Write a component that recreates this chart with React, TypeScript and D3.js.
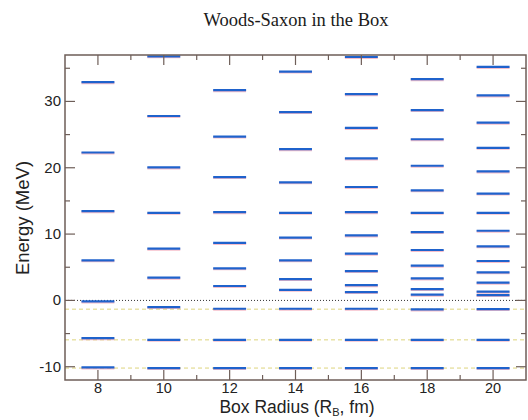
import React from 'react';
import * as d3 from 'd3';

// energy levels (MeV)
const RADII = [8, 10, 12, 14, 16, 18, 20];
const LEVELS_8 = [32.9, 22.3, 13.45, 6.05, -0.15, -5.7, -10.1];
const LEVELS_10 = [36.8, 27.8, 20.05, 13.2, 7.8, 3.43, -1.0, -5.95, -10.2];
const LEVELS_12 = [31.7, 24.7, 18.6, 13.3, 8.67, 4.84, 2.17, -1.26, -5.95, -10.2];
const LEVELS_14 = [34.5, 28.4, 22.8, 17.8, 13.2, 9.47, 6.05, 3.22, 1.6, -1.26, -5.95, -10.2];
const LEVELS_16 = [36.7, 31.1, 26.0, 21.4, 17.1, 13.3, 9.8, 7.05, 4.43, 2.3, 1.26, -1.26, -5.95, -10.2];
const LEVELS_18 = [33.35, 28.7, 24.3, 20.3, 16.6, 13.2, 10.3, 7.6, 5.24, 3.32, 1.71, 0.86, -1.36, -5.95, -10.2];
const LEVELS_20 = [35.2, 30.9, 26.8, 23.0, 19.45, 16.1, 13.2, 10.5, 8.16, 5.94, 4.23, 2.67, 1.31, 0.81, -1.31, -5.95, -10.2];
const LEVELS = [LEVELS_8, LEVELS_10, LEVELS_12, LEVELS_14, LEVELS_16, LEVELS_18, LEVELS_20];

// bound states of the potential (dashed reference lines)
const BOUND_STATES = [-1.32, -5.95, -10.2];

const X_MAJOR = [8, 10, 12, 14, 16, 18, 20];
const X_MINOR = [9, 11, 13, 15, 17, 19];
const Y_MAJOR = [-10, 0, 10, 20, 30];
const Y_MINOR = [-5, 5, 15, 25, 35];

const W = 528;
const H = 420;
const L = 65;
const R = 526;
const T = 55;
const B = 380;

const FRAME = '#6e5e58';
const BLUE = '#1f62cc';
const PINK = '#f08aa0';

export default function App() {
  const x = d3.scaleLinear().domain([7, 21]).range([L, R]);
  const y = d3.scaleLinear().domain([-12, 37]).range([B, T]);

  const bars = RADII.flatMap((r, i) => LEVELS[i].map((e, j) => ({ r, e, key: `${r}-${j}` })));

  return (
    <svg
      width={W}
      height={H}
      style={{ position: 'absolute', left: 0, top: 0, background: '#fff' }}
    >
      <text
        x={296}
        y={26}
        textAnchor="middle"
        fontFamily="'Liberation Serif', 'Times New Roman', serif"
        fontSize={18.5}
        fill="#1a1a1a"
      >
        Woods-Saxon in the Box
      </text>

      {BOUND_STATES.map((e) => (
        <line
          key={e}
          x1={L}
          x2={R}
          y1={y(e)}
          y2={y(e)}
          stroke="#ddd47c"
          strokeWidth={1}
          strokeDasharray="4,3"
        />
      ))}
      <line x1={L} x2={R} y1={y(0)} y2={y(0)} stroke="#333" strokeWidth={1} strokeDasharray="1,2" />

      {bars.map((d) => (
        <g key={d.key}>
          <line
            x1={x(d.r - 0.5)}
            x2={x(d.r + 0.5)}
            y1={y(d.e) + 0.8}
            y2={y(d.e) + 0.8}
            stroke={PINK}
            strokeWidth={2.4}
            opacity={0.55}
          />
          <line
            x1={x(d.r - 0.5)}
            x2={x(d.r + 0.5)}
            y1={y(d.e)}
            y2={y(d.e)}
            stroke={BLUE}
            strokeWidth={2.2}
          />
        </g>
      ))}

      <g stroke={FRAME} strokeWidth={1.2}>
        {X_MAJOR.map((v) => (
          <g key={`xM${v}`}>
            <line x1={x(v)} x2={x(v)} y1={B} y2={B - 10} />
            <line x1={x(v)} x2={x(v)} y1={T} y2={T + 10} />
          </g>
        ))}
        {X_MINOR.map((v) => (
          <g key={`xm${v}`}>
            <line x1={x(v)} x2={x(v)} y1={B} y2={B - 5} />
            <line x1={x(v)} x2={x(v)} y1={T} y2={T + 5} />
          </g>
        ))}
        {Y_MAJOR.map((v) => (
          <g key={`yM${v}`}>
            <line x1={L} x2={L + 10} y1={y(v)} y2={y(v)} />
            <line x1={R} x2={R - 10} y1={y(v)} y2={y(v)} />
          </g>
        ))}
        {Y_MINOR.map((v) => (
          <g key={`ym${v}`}>
            <line x1={L} x2={L + 5} y1={y(v)} y2={y(v)} />
            <line x1={R} x2={R - 5} y1={y(v)} y2={y(v)} />
          </g>
        ))}
        <rect x={L} y={T} width={R - L} height={B - T} fill="none" strokeWidth={1.5} />
      </g>

      <g fontFamily="'Liberation Sans', Arial, sans-serif" fill="#222">
        {X_MAJOR.map((v) => (
          <text key={`xl${v}`} x={x(v)} y={393} textAnchor="middle" fontSize={14.5}>
            {v}
          </text>
        ))}
        {Y_MAJOR.map((v) => (
          <text key={`yl${v}`} x={L - 4} y={y(v) + 5} textAnchor="end" fontSize={15}>
            {v}
          </text>
        ))}
        <text x={297} y={413} textAnchor="middle" fontSize={17.5}>
          Box Radius (R
          <tspan dy={3} fontSize={11}>B</tspan>
          <tspan dy={-3}>, fm)</tspan>
        </text>
        <text
          transform={`translate(29,218) rotate(-90)`}
          textAnchor="middle"
          fontSize={18.5}
        >
          Energy (MeV)
        </text>
      </g>
    </svg>
  );
}
